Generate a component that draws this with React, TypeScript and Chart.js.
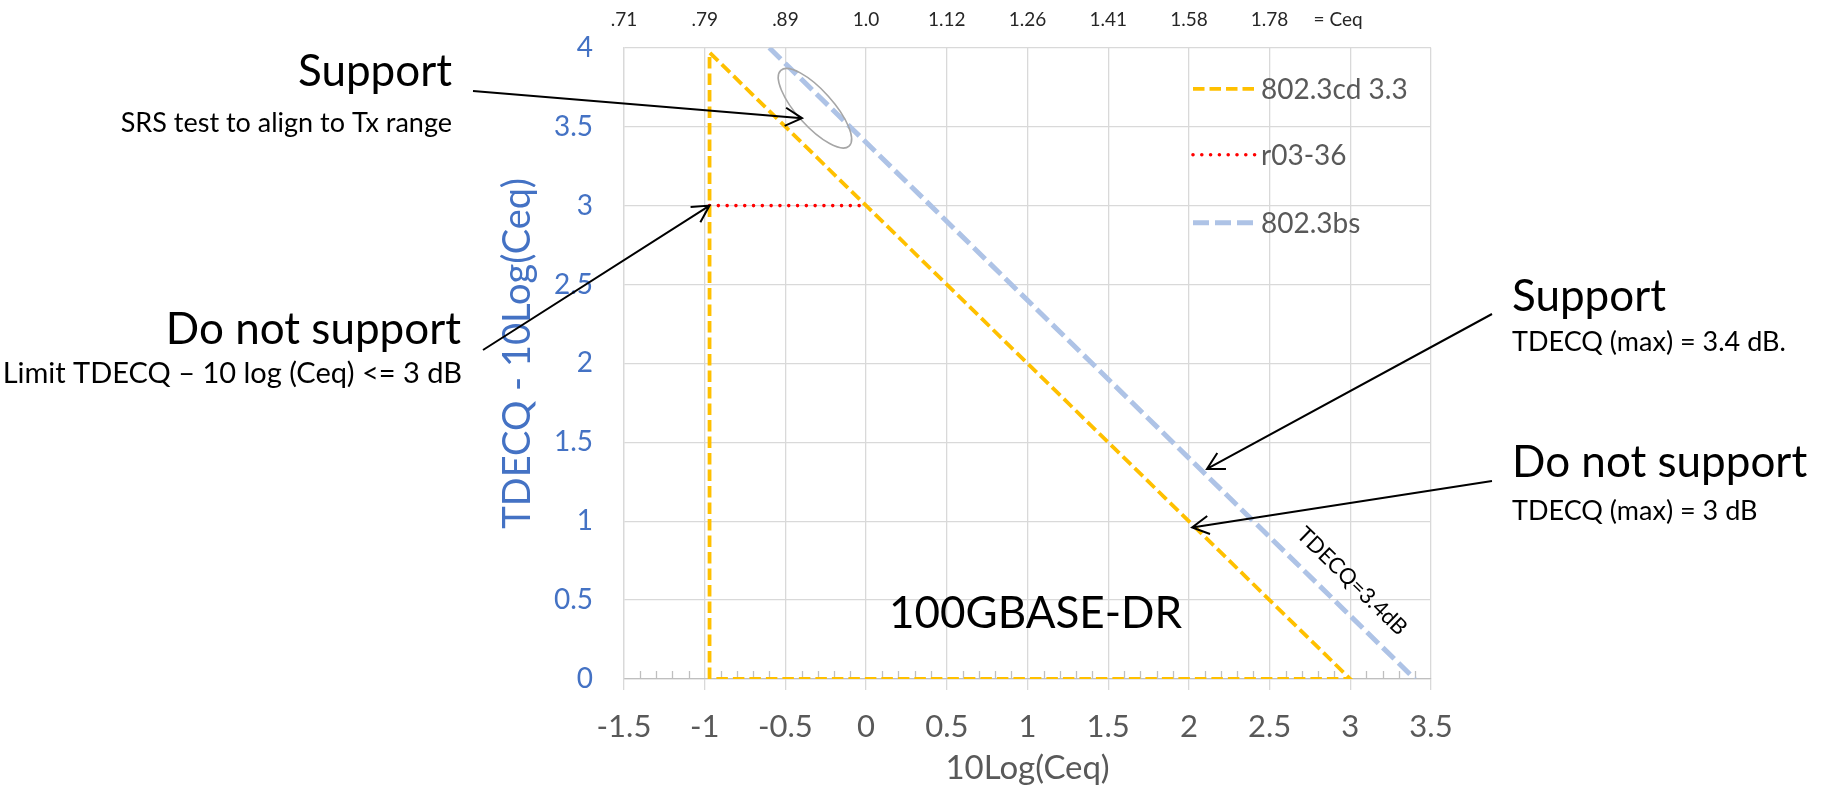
import { useEffect, useRef } from 'react';
import { Chart, registerables } from 'chart.js';

Chart.register(...registerables);

// Axis ranges
const xMin = -1.5;
const xMax = 3.5;
const yMin = 0;
const yMax = 4;
const gridStep = 0.5;
const minorStep = 0.1;

// Axis titles
const xTitle = '10Log(Ceq)';
const yTitle = 'TDECQ - 10Log(Ceq)';

// Secondary (top) axis: Ceq values at each 10Log(Ceq) grid position
const ceqPositions = [-1.5, -1, -0.5, 0, 0.5, 1, 1.5, 2, 2.5];
const ceqLabels = ['.71', '.79', '.89', '1.0', '1.12', '1.26', '1.41', '1.58', '1.78'];

// Series
const seriesNames = ['802.3cd 3.3', 'r03-36', '802.3bs'];
const cd33X = [-0.97, -0.97, 3, -0.97];
const cd33Y = [0, 3.97, 0, 0];
const r0336X = [-0.97, 0];
const r0336Y = [3, 3];
const bsX = [-0.6, 3.4];
const bsY = [4, 0];

const FONT = 'Lato, "Open Sans", sans-serif';

const toPoints = (xs: number[], ys: number[]) => xs.map((x, i) => ({ x, y: ys[i] }));
const fmt = (v: any) => String(Math.round(Number(v) * 10) / 10);

function drawArrow(ctx: CanvasRenderingContext2D, x0: number, y0: number, x1: number, y1: number) {
  const ang = Math.atan2(y1 - y0, x1 - x0);
  const head = 19;
  const spread = Math.PI / 6.3;
  ctx.beginPath();
  ctx.moveTo(x0, y0);
  ctx.lineTo(x1, y1);
  ctx.moveTo(x1 - head * Math.cos(ang - spread), y1 - head * Math.sin(ang - spread));
  ctx.lineTo(x1, y1);
  ctx.lineTo(x1 - head * Math.cos(ang + spread), y1 - head * Math.sin(ang + spread));
  ctx.stroke();
}

// Small upward tick marks every 0.1 along the x axis
const minorTicks = {
  id: 'minorTicks',
  beforeDatasetsDraw(chart: any) {
    const { ctx, chartArea, scales } = chart;
    const xs = scales.x;
    ctx.save();
    ctx.strokeStyle = '#BFBFBF';
    ctx.lineWidth = 1.3;
    const n = Math.round((xMax - xMin) / minorStep);
    for (let i = 1; i < n; i++) {
      if (i % 5 === 0) continue;
      const px = Math.round(xs.getPixelForValue(xMin + i * minorStep)) + 0.5;
      ctx.beginPath();
      ctx.moveTo(px, chartArea.bottom);
      ctx.lineTo(px, chartArea.bottom - 8);
      ctx.stroke();
    }
    ctx.restore();
  },
};

// Legend drawn inside the plot, top right
const insideLegend = {
  id: 'insideLegend',
  afterDatasetsDraw(chart: any) {
    const { ctx, chartArea } = chart;
    const x0 = chartArea.right - 238;
    const x1 = chartArea.right - 176;
    const rows = [41, 107, 175];
    ctx.save();
    chart.data.datasets.forEach((ds: any, i: number) => {
      const y = chartArea.top + rows[i];
      ctx.strokeStyle = ds.borderColor;
      ctx.lineWidth = ds.borderWidth;
      ctx.lineCap = ds.borderCapStyle || 'butt';
      ctx.setLineDash(ds.borderDash || []);
      ctx.beginPath();
      ctx.moveTo(x0, y);
      ctx.lineTo(x1, y);
      ctx.stroke();
      ctx.setLineDash([]);
      ctx.fillStyle = '#595959';
      ctx.font = `28px ${FONT}`;
      ctx.textAlign = 'left';
      ctx.textBaseline = 'middle';
      ctx.fillText(ds.label, x1 + 6, y + 1);
    });
    ctx.restore();
  },
};

// Callouts, ellipse, y title and in-plot labels
const callouts = {
  id: 'callouts',
  afterDraw(chart: any) {
    const { ctx, scales, chartArea } = chart;
    const xs = scales.x;
    const ys = scales.y;
    const px = (v: number) => xs.getPixelForValue(v);
    const py = (v: number) => ys.getPixelForValue(v);
    ctx.save();

    // "= Ceq" after the last Ceq label
    ctx.fillStyle = '#262626';
    ctx.font = `19px ${FONT}`;
    ctx.textAlign = 'left';
    ctx.textBaseline = 'middle';
    ctx.fillText('= Ceq', px(2.5) + 44, 20);

    // Vertical axis title
    ctx.save();
    ctx.translate(chartArea.left - 106, (chartArea.top + chartArea.bottom) / 2 - 10);
    ctx.rotate(-Math.PI / 2);
    ctx.fillStyle = '#4472C4';
    ctx.font = `38px ${FONT}`;
    ctx.textAlign = 'center';
    ctx.textBaseline = 'middle';
    ctx.fillText(yTitle, 0, 0);
    ctx.restore();

    // Ellipse around the 802.3bs line
    ctx.strokeStyle = '#A6A6A6';
    ctx.lineWidth = 1.6;
    ctx.beginPath();
    ctx.ellipse(px(-0.317), py(3.617), 51, 18, (48 * Math.PI) / 180, 0, Math.PI * 2);
    ctx.stroke();

    // Text blocks
    ctx.fillStyle = '#000';
    const text = (s: string, x: number, y: number, size: number, align: CanvasTextAlign) => {
      ctx.font = `${size}px ${FONT}`;
      ctx.textAlign = align;
      ctx.textBaseline = 'middle';
      ctx.fillText(s, x, y);
    };
    text('Support', 452, 72, 44, 'right');
    text('SRS test to align to Tx range', 452, 123, 27, 'right');
    text('Do not support', 461, 330, 44, 'right');
    text('Limit TDECQ \u2013 10 log (Ceq) <= 3 dB', 462, 374, 29, 'right');
    text('Support', 1512, 297, 44, 'left');
    text('TDECQ (max) = 3.4 dB.', 1512, 342, 27, 'left');
    text('Do not support', 1512, 463, 44, 'left');
    text('TDECQ (max) = 3 dB', 1512, 511, 27, 'left');
    text('100GBASE-DR', px(1.05), py(0.41), 44, 'center');

    // Rotated label along the 802.3bs line
    const ang = Math.atan2(py(0) - py(1), px(1) - px(0));
    ctx.save();
    ctx.translate(px(3.01), py(0.62));
    ctx.rotate(ang);
    text('TDECQ=3.4dB', 0, 0, 22, 'center');
    ctx.restore();

    // Arrows
    ctx.strokeStyle = '#000';
    ctx.lineWidth = 2;
    drawArrow(ctx, 473, 91, px(-0.397), py(3.554));
    drawArrow(ctx, 483, 350, px(-0.97), py(3));
    drawArrow(ctx, 1492, 314, px(2.112), py(1.331));
    drawArrow(ctx, 1492, 481, px(2.02), py(0.96));

    ctx.restore();
  },
};

export default function App() {
  const canvasRef = useRef<HTMLCanvasElement | null>(null);

  useEffect(() => {
    const canvas = canvasRef.current;
    if (!canvas) return;
    Chart.defaults.font.family = FONT;

    const chart = new Chart(canvas, {
      type: 'scatter',
      data: {
        datasets: [
          {
            label: seriesNames[0],
            data: toPoints(cd33X, cd33Y),
            showLine: true,
            borderColor: '#FFC000',
            borderWidth: 3.8,
            borderDash: [11.5, 5],
            borderCapStyle: 'butt',
            pointRadius: 0,
            pointHoverRadius: 0,
            tension: 0,
          },
          {
            label: seriesNames[1],
            data: toPoints(r0336X, r0336Y),
            showLine: true,
            borderColor: '#FF0000',
            borderWidth: 3.6,
            borderDash: [0, 8.8],
            borderCapStyle: 'round',
            pointRadius: 0,
            pointHoverRadius: 0,
            tension: 0,
          },
          {
            label: seriesNames[2],
            data: toPoints(bsX, bsY),
            showLine: true,
            borderColor: '#AEC3E6',
            borderWidth: 5,
            borderDash: [16, 6],
            borderCapStyle: 'butt',
            pointRadius: 0,
            pointHoverRadius: 0,
            tension: 0,
          },
        ],
      },
      options: {
        responsive: false,
        animation: false,
        events: [],
        layout: { padding: { left: 490, right: 394, top: 0, bottom: 0 } },
        plugins: {
          legend: { display: false },
          tooltip: { enabled: false },
        },
        scales: {
          x: {
            type: 'linear',
            position: 'bottom',
            min: xMin,
            max: xMax,
            ticks: {
              stepSize: gridStep,
              color: '#595959',
              font: { size: 31 },
              padding: 18,
              callback: fmt,
            },
            grid: { color: '#D9D9D9', lineWidth: 1.3, drawTicks: true, tickLength: 11, tickColor: '#D9D9D9' },
            border: { color: '#BFBFBF', width: 1.3 },
            title: {
              display: true,
              text: xTitle,
              color: '#595959',
              font: { size: 33 },
              padding: { top: 0, bottom: 2 },
            },
            afterFit: (scale: any) => {
              scale.height = 111;
            },
          },
          xTop: {
            type: 'linear',
            position: 'top',
            min: xMin,
            max: xMax,
            ticks: {
              stepSize: gridStep,
              color: '#262626',
              font: { size: 19 },
              padding: 17,
              autoSkip: false,
              maxRotation: 0,
              callback: (value: any) => {
                const i = ceqPositions.findIndex((p) => Math.abs(p - Number(value)) < 1e-6);
                return i >= 0 ? ceqLabels[i] : '';
              },
            },
            grid: { display: false, drawTicks: false },
            border: { display: false },
            afterFit: (scale: any) => {
              scale.height = 42;
            },
          },
          y: {
            type: 'linear',
            min: yMin,
            max: yMax,
            ticks: {
              stepSize: gridStep,
              color: '#4472C4',
              font: { size: 28 },
              padding: 31,
              callback: fmt,
            },
            grid: { color: '#D9D9D9', lineWidth: 1.3, drawTicks: false },
            border: { color: '#D9D9D9', width: 1.3 },
            title: { display: false, text: yTitle },
            afterFit: (scale: any) => {
              scale.width = 134;
            },
          },
        },
      },
      plugins: [minorTicks, insideLegend, callouts],
    });

    return () => chart.destroy();
  }, []);

  return (
    <div style={{ position: 'fixed', left: 0, top: 0, width: 1825, height: 790, background: '#fff' }}>
      <canvas ref={canvasRef} width={1825} height={790} style={{ display: 'block', width: 1825, height: 790 }} />
    </div>
  );
}
